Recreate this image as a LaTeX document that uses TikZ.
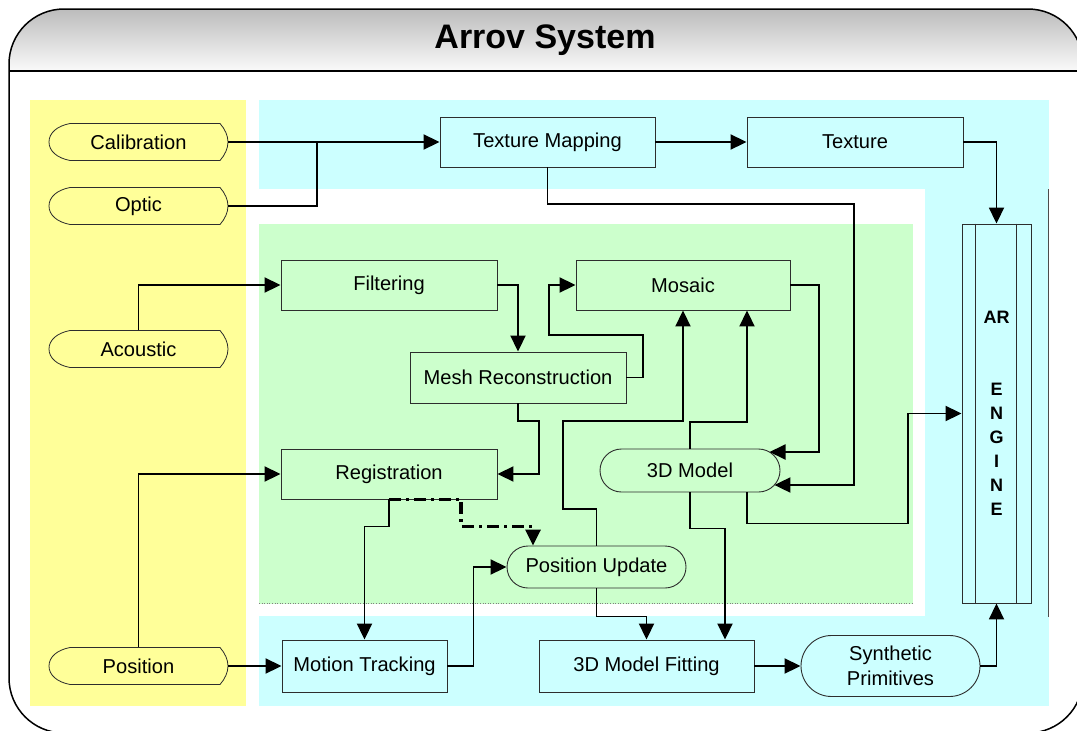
\documentclass[tikz,border=0pt]{standalone}
\usepackage{fontspec}
\setmainfont{Liberation Sans}
\usetikzlibrary{arrows.meta,shapes.misc,calc}
\definecolor{ybg}{RGB}{255,255,153}
\definecolor{cbg}{RGB}{204,255,255}
\definecolor{gbg}{RGB}{204,255,204}
\definecolor{bline}{RGB}{45,45,45}
\newcommand\dlabelfont{\fontsize{20.1}{25.5}\selectfont}
\begin{document}
\begin{tikzpicture}[x=1pt,y=-1pt,
  box/.style={draw=bline,line width=0.9pt,inner sep=0pt,font=\dlabelfont,align=center},
  cbox/.style={box,fill=cbg},
  gbox/.style={box,fill=gbg},
  pill/.style={rounded rectangle},
  inshape/.style={draw=bline,line width=0.8pt,fill=ybg},
  intext/.style={inner sep=0pt,minimum width=179pt,minimum height=37pt,font=\dlabelfont},
  arr/.style={line width=1.9pt,-{Triangle[length=16pt,width=15pt]}},
  ln/.style={line width=1.9pt},
  dd/.style={line width=3.2pt,dash pattern=on 12pt off 5pt on 3pt off 5pt,-{Triangle[length=16pt,width=15pt]}},
  frame/.style={line width=1.5pt,draw=black}]
\useasboundingbox (0,0) rectangle (1077,731);
\begin{scope}
\clip (0,0) rectangle (1077,731);
\fill[white] (0,0) rectangle (1077,731);
\shade[top color={rgb,255:red,188;green,188;blue,188}, bottom color={rgb,255:red,250;green,250;blue,250}]
  (9,71) -- (9,64) arc[start angle=180,end angle=90,radius=55pt] -- (1028,9)
  arc[start angle=90,end angle=0,radius=55pt] -- (1083,71) -- cycle;
\node[font=\fontsize{34}{40}\selectfont\bfseries] (title) at (545,40) {Arrov System};

% background bands
\fill[ybg] (30,100) rectangle (246,706);
\fill[cbg] (259,100) rectangle (1049,706);
\fill[white] (259,189) rectangle (925,616);
\fill[gbg] (259,224) rectangle (913,603.5);
\draw[gray,line width=0.6pt,dotted] (259,603.5) -- (913,603.5);
\draw[black!70,line width=0.9pt] (1048.5,189) -- (1048.5,617);

% input shapes
\foreach \nm/\cy/\txt in {cal/142/Calibration,opt/206/Optic,aco/349/Acoustic,pos/666/Position}{
  \draw[inshape] (70,\cy-18.5) -- (220,\cy-18.5)
    .. controls (225,\cy-13) and (228,\cy-6) .. (228,\cy)
    .. controls (228,\cy+6) and (225,\cy+13) .. (220,\cy+18.5)
    -- (70,\cy+18.5)
    .. controls (57,\cy+16) and (49,\cy+9) .. (49,\cy)
    .. controls (49,\cy-9) and (57,\cy-16) .. cycle;
  \node[intext] (\nm) at (138.5,\cy) {\txt};
}

% process nodes
\node[cbox,minimum width=215pt,minimum height=50pt] (tm) at (547.5,142) {Texture Mapping};
\node[cbox,minimum width=216pt,minimum height=50pt] (tex) at (855,142) {Texture};
\node[gbox,minimum width=216pt,minimum height=50pt] (fil) at (389,285) {Filtering};
\node[gbox,minimum width=214pt,minimum height=50pt] (mos) at (683,285) {Mosaic};
\node[gbox,minimum width=216pt,minimum height=51pt] (mesh) at (518,377.5) {Mesh Reconstruction};
\node[gbox,minimum width=216pt,minimum height=50pt] (reg) at (389,474) {Registration};
\node[gbox,pill,minimum width=180pt,minimum height=43pt] (mod) at (690,470.5) {3D Model};
\node[gbox,pill,minimum width=179pt,minimum height=42pt] (pu) at (596.5,567) {Position Update};
\node[cbox,minimum width=165pt,minimum height=52pt] (mt) at (364.5,666) {Motion Tracking};
\node[cbox,minimum width=215pt,minimum height=52pt] (mf) at (646.5,666) {3D Model Fitting};
\node[cbox,pill,minimum width=179pt,minimum height=61pt] (sp) at (890.5,666) {Synthetic\\Primitives};
\node[cbox,minimum width=69pt,minimum height=379pt,font=\fontsize{18}{24}\selectfont\bfseries] (ar) at (996.5,413.5) {AR\\[48pt]E\\N\\G\\I\\N\\E};
\draw[draw=bline,line width=0.9pt] ([xshift=14pt]ar.north west) -- ([xshift=14pt]ar.south west);
\draw[draw=bline,line width=0.9pt] ([xshift=-15pt]ar.north east) -- ([xshift=-15pt]ar.south east);

% connectors
\coordinate (jopt) at (317,142);
\draw[arr] (cal.east) -- (tm.west);
\draw[ln] (opt.east) -| (jopt);
\draw[arr] (tm.east) -- (tex.west);
\draw[arr] (tex.east) -| (ar.north);
\draw[arr] (tm.south) |- (854,204) |- ($(mod.center)+(84.4,14.5)$);
\draw[arr] (aco.north) |- (fil.west);
\draw[arr] (fil.east) -| (mesh.north);
\draw[arr] (mesh.east) -| (643,335) -| (549,285) -- (mos.west);
\draw[arr] (mos.east) -| ($(mod.center)+(129,-18.5)$) -- ($(mod.center)+(79.5,-18.5)$);
\draw[arr] (mesh.south) |- (539,421) |- (reg.east);
\draw[arr] (pos.north) |- (reg.west);
\draw[arr] (pos.east) -- (mt.west);
\draw[arr] (reg.south) -- ++(0,27) -| (mt.north);
\draw[dd] (reg.south) -- ++(72,0) -- ++(0,27) -| ([xshift=-63.5pt]pu.north);
\draw[arr] (mt.east) -- ++(26,0) |- (pu.west);
\draw[arr] (pu.north) -- ++(0,-37) -| (563,421) -| (mos.south);
\draw[arr] (mod.north) -- ++(0,-27) -| ([xshift=64pt]mos.south);
\draw[arr] (pu.south) -- ++(0,28) -| (mf.north);
\draw[arr] (mod.south) -- ++(0,36) -| ([xshift=78.5pt]mf.north);
\draw[arr] ([xshift=57pt]mod.south) -- ++(0,31) -| (908,413.5) -- (ar.west);
\draw[arr] (mf.east) -- (sp.west);
\draw[arr] (sp.east) -| (ar.south);

% frame
\draw[frame,rounded corners=55pt] (9,9) rectangle (1083,733);
\draw[frame] (9,71) -- (1083,71);
\end{scope}
\end{tikzpicture}
\end{document}
